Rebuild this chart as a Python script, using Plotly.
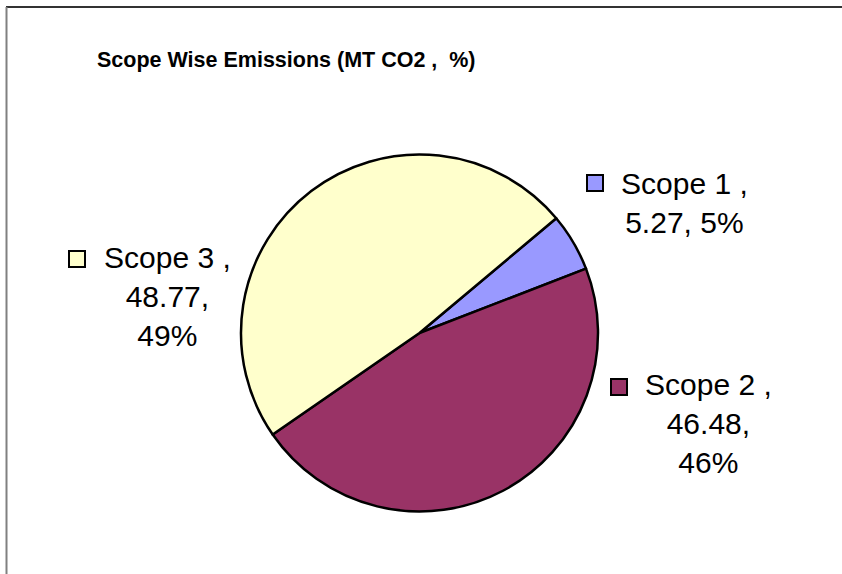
import plotly.graph_objects as go

# datos del grafico
scopes = ['Scope 1', 'Scope 2', 'Scope 3']
emisiones = [5.27, 46.48, 48.77]   # MT CO2
colores = ['#9999FF', '#993366', '#FFFFCC']
pct_en_linea_nueva = [False, True, True]

W, H = 842, 574

def px(x):
    return x / W

def py(y):
    return 1 - y / H

total = sum(emisiones)

fig = go.Figure()
fig.add_trace(go.Pie(labels=scopes, values=emisiones,
                     sort=False, direction='clockwise', rotation=50,
                     marker=dict(colors=colores, line=dict(color='black', width=2.5)),
                     textinfo='none', hoverinfo='label+value+percent',
                     showlegend=False,
                     domain=dict(x=[px(241), px(598)], y=[py(511.5), py(154.5)])))

# etiquetas con su cuadrito de color
pos_texto = [(684, 203), (708, 423), (167, 296)]
pos_cuadro = [(595, 183), (619, 387), (77, 259)]
anot = []
formas = []
for i in range(len(scopes)):
    pct = round(emisiones[i] / total * 100)
    sep = '<br>' if pct_en_linea_nueva[i] else ' '
    txt = scopes[i] + ' ,<br>' + str(emisiones[i]) + ',' + sep + str(pct) + '%'
    anot.append(dict(text=txt, x=px(pos_texto[i][0]), y=py(pos_texto[i][1]),
                     xref='paper', yref='paper', xanchor='center', yanchor='middle',
                     showarrow=False, align='center',
                     font=dict(family='Arial, Liberation Sans', size=30, color='black')))
    cx, cy = pos_cuadro[i]
    formas.append(dict(type='rect', xref='paper', yref='paper',
                       x0=px(cx - 8), x1=px(cx + 8), y0=py(cy + 8), y1=py(cy - 8),
                       fillcolor=colores[i], line=dict(color='black', width=2)))

# titulo
anot.append(dict(text='<b>Scope Wise Emissions (MT CO2 ,  %)</b>', x=px(95), y=py(60),
                 xref='paper', yref='paper', xanchor='left', yanchor='middle',
                 showarrow=False,
                 font=dict(family='Arial, Liberation Sans', size=21.5, color='black')))

# borde del area del grafico
formas.append(dict(type='line', xref='paper', yref='paper', x0=px(6), x1=1.01, y0=py(7), y1=py(7),
                   line=dict(color='#333333', width=2)))
formas.append(dict(type='line', xref='paper', yref='paper', x0=px(6.5), x1=px(6.5), y0=py(7), y1=-0.01,
                   line=dict(color='#808080', width=2)))

fig.update_layout(width=W, height=H, margin=dict(l=0, r=0, t=0, b=0),
                  paper_bgcolor='white', plot_bgcolor='white',
                  annotations=anot, shapes=formas)

# quitar el margen del body para que la figura quede en (0,0)
fig.write_html('out.html', config={'displayModeBar': False},
               post_script="document.body.style.margin='0px';")
